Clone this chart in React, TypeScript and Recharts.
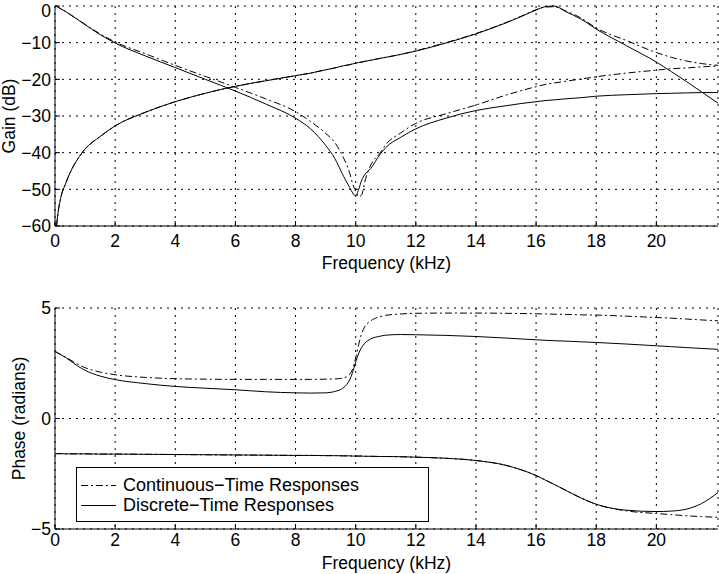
import { LineChart, Line, XAxis, YAxis, CartesianGrid } from "recharts";

// MATLAB-style two-panel Bode plot, black on white.
const INK = "#000";
const FONT = '"Liberation Sans", Arial, Helvetica, sans-serif';
const DASH_DOT = "7 3 2 3";
const GRID_DASH = "2 5";

const freq = [
  0, 0.05, 0.1, 0.2, 0.35, 0.5, 0.75, 1, 1.5, 2, 3, 4, 5, 6, 7, 8, 8.5, 9, 9.3, 9.6, 9.8, 9.9, 10, 10.1, 10.2,
  10.3, 10.5, 10.8, 11, 11.5, 12, 13, 14, 15, 15.5, 16, 16.3, 16.6, 17, 17.5, 18, 19, 20, 20.5, 21, 21.5, 22.05,
];

// gain (dB)
const gainLowD = [
  0, -0.1, -0.3, -0.8, -1.5, -2.3, -3.7, -5.1, -7.8, -10.1, -13.6, -16.8, -20, -23.2, -26.7, -30.6, -33.5, -38,
  -41.5, -46.5, -49.5, -51, -51.8, -50, -47.5, -46, -44.3, -40.6, -38.6, -35.8, -33.5, -30.6, -28.5, -27.2, -26.6,
  -26.1, -25.8, -25.6, -25.3, -25, -24.6, -24.2, -23.9, -23.8, -23.7, -23.6, -23.6,
];
const gainLowC = [
  0, -0.1, -0.3, -0.8, -1.5, -2.3, -3.6, -5, -7.6, -9.8, -13, -16.2, -19.2, -22.2, -25.3, -28.8, -31.5, -34.7,
  -37.2, -41.5, -45.5, -48.5, -50.5, -52, -51.5, -48, -43.4, -40.2, -37.8, -34.6, -32, -29.4, -27, -24.3, -23.1,
  -22, -21.4, -21, -20.5, -19.9, -19.3, -18.3, -17.5, -17.1, -16.9, -16.6, -16.4,
];
const gainHighD = [
  null, -60, -56.5, -52, -48.5, -45.5, -41.8, -39, -35.6, -32.7, -29, -26.1, -23.8, -21.9, -20.4, -19, -18.3,
  -17.4, -16.9, -16.3, -16, -15.8, -15.6, -15.4, -15.3, -15.1, -14.8, -14.3, -14, -13.2, -12.3, -10.1, -7.6, -4.6,
  -2.9, -1.1, -0.2, 0, -1.6, -3.6, -6.3, -10.8, -15.3, -17.9, -20.6, -23.4, -26.5,
];
const gainHighC = [
  null, -60, -56.5, -52, -48.5, -45.5, -41.8, -39, -35.6, -32.7, -29, -26.1, -23.8, -21.9, -20.4, -19, -18.3,
  -17.4, -16.9, -16.3, -16, -15.8, -15.6, -15.4, -15.3, -15.1, -14.8, -14.3, -14, -13.2, -12.2, -10, -7.5, -4.5,
  -2.8, -1, -0.3, -0.2, -1.4, -3.3, -6, -9.4, -12.7, -14, -15, -15.7, -16.2,
];

// phase (radians)
const phaseUpD = [
  3.03, 3.0, 2.96, 2.88, 2.76, 2.62, 2.38, 2.18, 1.92, 1.76, 1.58, 1.45, 1.37, 1.3, 1.21, 1.16, 1.15, 1.16, 1.22,
  1.4, 1.75, 2.1, 2.55, 2.95, 3.22, 3.4, 3.6, 3.72, 3.77, 3.8, 3.79, 3.76, 3.71, 3.64, 3.6, 3.56, 3.54, 3.52, 3.5,
  3.47, 3.44, 3.37, 3.29, 3.25, 3.21, 3.17, 3.13,
];
const phaseUpC = [
  3.03, 3.0, 2.96, 2.89, 2.78, 2.66, 2.46, 2.3, 2.1, 1.98, 1.86, 1.8, 1.78, 1.77, 1.77, 1.77, 1.77, 1.78, 1.79,
  1.84, 2.0, 2.25, 2.75, 3.35, 3.85, 4.15, 4.42, 4.6, 4.67, 4.73, 4.76, 4.77, 4.77, 4.76, 4.75, 4.74, 4.73, 4.72,
  4.71, 4.69, 4.68, 4.63, 4.57, 4.54, 4.5, 4.46, 4.42,
];
const phaseLowD = [
  -1.59, -1.59, -1.59, -1.59, -1.6, -1.6, -1.6, -1.6, -1.61, -1.61, -1.62, -1.63, -1.64, -1.65, -1.66, -1.67,
  -1.67, -1.68, -1.68, -1.69, -1.69, -1.7, -1.7, -1.7, -1.7, -1.71, -1.71, -1.72, -1.72, -1.73, -1.75, -1.8,
  -1.9, -2.12, -2.32, -2.58, -2.78, -2.98, -3.26, -3.6, -3.88, -4.15, -4.21, -4.19, -4.1, -3.85, -3.35,
];
const phaseLowC = [
  -1.59, -1.59, -1.59, -1.59, -1.6, -1.6, -1.6, -1.6, -1.61, -1.61, -1.62, -1.63, -1.64, -1.65, -1.66, -1.67,
  -1.67, -1.68, -1.68, -1.69, -1.69, -1.7, -1.7, -1.7, -1.7, -1.71, -1.71, -1.72, -1.72, -1.73, -1.75, -1.8,
  -1.9, -2.12, -2.32, -2.58, -2.78, -2.98, -3.26, -3.6, -3.88, -4.18, -4.3, -4.35, -4.4, -4.44, -4.47,
];

const freqTicks = [0, 2, 4, 6, 8, 10, 12, 14, 16, 18, 20];
const gainTicks = [-60, -50, -40, -30, -20, -10, 0];
const phaseTicks = [-5, 0, 5];
const legendItems = [
  { name: "Continuous\u2212Time Responses", dash: DASH_DOT },
  { name: "Discrete\u2212Time Responses", dash: undefined },
];

const gainData = freq.map((f, i) => ({
  f,
  lowD: gainLowD[i],
  lowC: gainLowC[i],
  highD: gainHighD[i],
  highC: gainHighC[i],
}));
const phaseData = freq.map((f, i) => ({
  f,
  upD: phaseUpD[i],
  upC: phaseUpC[i],
  lowD: phaseLowD[i],
  lowC: phaseLowC[i],
}));

const FS = 17.5;
const fmt = (v: number) => (v < 0 ? `\u2212${Math.abs(v)}` : `${v}`);
const tickStyle = { fill: INK, fontSize: FS, fontFamily: FONT };
const noLabel = () => <g />;

function Panel({
  data,
  keys,
  yDomain,
  yTicks,
  yLabel,
  yLabelDx,
  top,
  xAxisHeight,
  xTickMargin,
  xLabelDy,
}: {
  data: Record<string, number | null>[];
  keys: { key: string; dash?: string }[];
  yDomain: [number, number];
  yTicks: number[];
  yLabel: string;
  yLabelDx: number;
  top: number;
  xAxisHeight: number;
  xTickMargin: number;
  xLabelDy: number;
}) {
  return (
    <LineChart width={719} height={287} data={data} margin={{ top, right: 1, bottom: 0, left: 0 }}>
      <CartesianGrid stroke={INK} strokeDasharray={GRID_DASH} />
      <XAxis
        dataKey="f"
        type="number"
        domain={[0, 22.05]}
        ticks={freqTicks}
        height={xAxisHeight}
        tickSize={-5}
        tickMargin={xTickMargin}
        tick={tickStyle}
        axisLine={{ stroke: INK }}
        tickLine={{ stroke: INK }}
        label={{ value: "Frequency (kHz)", position: "center", dy: xLabelDy, fill: INK, fontSize: FS, fontFamily: FONT }}
      />
      <XAxis
        xAxisId="top"
        orientation="top"
        dataKey="f"
        type="number"
        domain={[0, 22.05]}
        ticks={freqTicks}
        height={0}
        tickSize={-5}
        tick={noLabel}
        axisLine={{ stroke: INK }}
        tickLine={{ stroke: INK }}
      />
      <YAxis
        type="number"
        domain={yDomain}
        ticks={yTicks}
        width={55}
        tickSize={-5}
        tickMargin={9}
        tickFormatter={fmt}
        tick={tickStyle}
        axisLine={{ stroke: INK }}
        tickLine={{ stroke: INK }}
        label={{ value: yLabel, angle: -90, position: "center", dx: yLabelDx, fill: INK, fontSize: FS, fontFamily: FONT }}
      />
      <YAxis
        yAxisId="right"
        orientation="right"
        type="number"
        domain={yDomain}
        ticks={yTicks}
        width={0}
        tickSize={-5}
        tick={noLabel}
        axisLine={{ stroke: INK }}
        tickLine={{ stroke: INK }}
      />
      {keys.map((k) => (
        <Line
          key={k.key}
          dataKey={k.key}
          type="monotone"
          stroke={INK}
          strokeWidth={1}
          strokeDasharray={k.dash}
          dot={false}
          activeDot={false}
          isAnimationActive={false}
        />
      ))}
    </LineChart>
  );
}

export default function App() {
  return (
    <div
      style={{
        position: "absolute",
        left: 0,
        top: 0,
        width: 719,
        height: 574,
        background: "#fff",
        fontFamily: FONT,
      }}
    >
      <Panel
        data={gainData}
        keys={[
          { key: "lowC", dash: DASH_DOT },
          { key: "highC", dash: DASH_DOT },
          { key: "lowD" },
          { key: "highD" },
        ]}
        yDomain={[-60, 0]}
        yTicks={gainTicks}
        yLabel="Gain (dB)"
        yLabelDx={-19}
        top={6}
        xAxisHeight={61}
        xTickMargin={14}
        xLabelDy={6}
      />
      <Panel
        data={phaseData}
        keys={[
          { key: "upC", dash: DASH_DOT },
          { key: "lowC", dash: DASH_DOT },
          { key: "upD" },
          { key: "lowD" },
        ]}
        yDomain={[-5, 5]}
        yTicks={phaseTicks}
        yLabel="Phase (radians)"
        yLabelDx={-9}
        top={21}
        xAxisHeight={45}
        xTickMargin={10}
        xLabelDy={11}
      />
      <div
        style={{
          position: "absolute",
          left: 76,
          top: 467,
          width: 353,
          height: 55,
          boxSizing: "border-box",
          border: `1px solid ${INK}`,
          background: "#fff",
          paddingTop: 7,
        }}
      >
        {legendItems.map((it) => (
          <div key={it.name} style={{ display: "flex", alignItems: "center", height: 20 }}>
            <svg width={46} height={20} style={{ display: "block" }}>
              <line x1={4} x2={39} y1={10.5} y2={10.5} stroke={INK} strokeWidth={1} strokeDasharray={it.dash} />
            </svg>
            <span style={{ fontSize: 18, color: INK, lineHeight: "20px", whiteSpace: "nowrap" }}>{it.name}</span>
          </div>
        ))}
      </div>
    </div>
  );
}
